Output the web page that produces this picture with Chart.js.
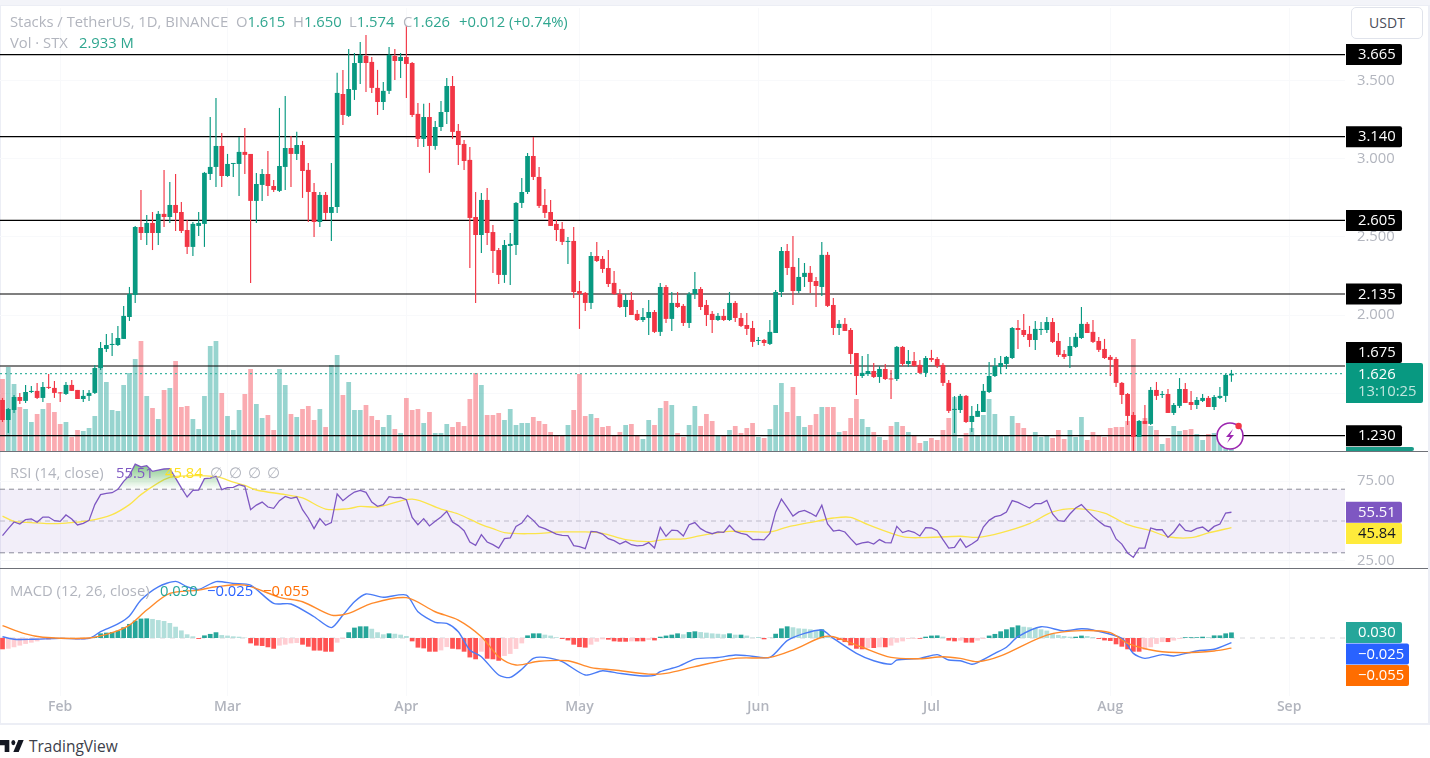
<!DOCTYPE html>
<html>
<head>
<meta charset="utf-8">
<title>Stacks / TetherUS</title>
<script src="https://cdn.jsdelivr.net/npm/chart.js@4/dist/chart.umd.min.js"></script>
<style>
    html, body { margin: 0; padding: 0; background: #fff; overflow: hidden; }
    body { width: 1430px; height: 758px; position: relative; font-family: "Open Sans", sans-serif; }
    canvas { position: absolute; left: 0; }
    .txt { position: absolute; white-space: pre; font-size: 14.8px; line-height: 18px; color: #b2b5be; z-index: 5; }
    .sep { position: absolute; left: 0; width: 1428px; height: 1px; background: #6f7178; z-index: 4; }
    #frame { position: absolute; left: 0; top: 5px; width: 1427px; height: 717px; border: 1px solid #eceef5; border-width: 1px 2px 2px 1px; }
    #topband { position: absolute; left: 0; top: 0; width: 1430px; height: 5px; background: #f3f4f9; }
    #unit { position: absolute; left: 1351px; top: 7px; width: 70px; height: 30px; border: 1px solid #e0e3eb; border-radius: 5px;
            text-align: center; line-height: 30px; font-size: 14px; color: #4a4e5a; background: #fff; z-index: 5; }
</style>
</head>
<body>
<div id="topband"></div>
<div id="frame"></div>
<canvas id="priceChart" width="1430" height="443" style="top:8px"></canvas>
<canvas id="rsiChart" width="1430" height="117" style="top:452px"></canvas>
<canvas id="macdChart" width="1430" height="152" style="top:570px"></canvas>
<div class="sep" style="top:451px"></div>
<div class="sep" style="top:568px"></div>
<div id="unit">USDT</div>

<div class="txt" style="left:10px;top:12px">Stacks / TetherUS, 1D, BINANCE</div>
<div class="txt" style="left:236px;top:12px">O<span style="color:#2fa68f">1.615</span></div>
<div class="txt" style="left:293px;top:12px">H<span style="color:#2fa68f">1.650</span></div>
<div class="txt" style="left:349px;top:12px">L<span style="color:#2fa68f">1.574</span></div>
<div class="txt" style="left:403px;top:12px">C<span style="color:#2fa68f">1.626</span></div>
<div class="txt" style="left:459px;top:12px;color:#2fa68f">+0.012 (+0.74%)</div>
<div class="txt" style="left:10px;top:33px">Vol · STX</div>
<div class="txt" style="left:79px;top:33px;color:#2fa68f">2.933 M</div>

<div class="txt" style="left:10px;top:463px">RSI (14, close)</div>
<div class="txt" style="left:116px;top:463px;color:#7e57c2">55.51</div>
<div class="txt" style="left:165px;top:463px;color:#ffe01f">45.84</div>
<div class="txt" style="left:210px;top:463px">∅</div>
<div class="txt" style="left:229px;top:463px">∅</div>
<div class="txt" style="left:248px;top:463px">∅</div>
<div class="txt" style="left:267px;top:463px">∅</div>

<div class="txt" style="left:10px;top:581px">MACD (12, 26, close)</div>
<div class="txt" style="left:160px;top:581px;color:#26a69a">0.030</div>
<div class="txt" style="left:207px;top:581px;color:#2962ff">−0.025</div>
<div class="txt" style="left:263px;top:581px;color:#ff6d00">−0.055</div>

<svg style="position:absolute;left:0;top:740px" width="24" height="12" viewBox="0 6 36 14" preserveAspectRatio="none">
    <path d="M14 6H0v6h7v8h7V6Z" fill="#131722"/><path d="M28 20h-8l7.5-14h8L28 20Z" fill="#131722"/><circle cx="20" cy="9" r="3" fill="#131722"/>
</svg>
<div class="txt" style="left:29px;top:737px;font-size:15.5px;color:#3d404a">TradingView</div>

<svg style="position:absolute;left:1212px;top:418px;z-index:6" width="36" height="36" viewBox="0 0 36 36">
    <circle cx="18" cy="18" r="13" fill="#fff" stroke="#9c27b0" stroke-width="1.6"/>
    <path d="M21 11l-7 8h4l-3 6 7-8h-4l3-6z" fill="#9c27b0"/>
    <circle cx="26.6" cy="8" r="3.2" fill="#f23645"/>
</svg>

<script>
    // Price candles, one entry per day from 22 Jan to 22 Aug
    var opens = [
        1.458,1.330,1.394,1.477,1.452,1.509,1.516,1.471,1.541,1.535,
        1.503,1.496,1.554,1.522,1.464,1.484,1.503,1.662,1.784,1.809,
        1.809,1.848,1.988,2.129,2.563,2.525,2.589,2.525,2.647,2.627,
        2.704,2.659,2.544,2.436,2.570,2.583,2.902,2.947,3.081,2.889,
        2.966,2.966,3.043,3.030,2.730,2.832,2.902,2.825,2.794,2.947,
        3.068,3.030,3.087,2.928,2.787,2.595,2.768,2.653,2.691,3.413,
        3.273,3.439,3.611,3.656,3.618,3.452,3.362,3.433,3.656,3.624,
        3.650,3.611,3.286,3.126,3.266,3.081,3.202,3.298,3.464,3.177,
        3.094,2.992,2.627,2.512,2.736,2.531,2.416,2.257,2.442,2.448,
        2.717,2.787,3.017,2.883,2.704,2.659,2.583,2.551,2.468,2.474,
        2.154,2.142,2.078,2.378,2.359,2.301,2.206,2.135,2.052,2.097,
        2.008,1.969,1.982,2.020,1.893,2.180,1.976,2.078,2.059,1.950,
        2.135,2.167,2.065,2.008,1.969,1.995,1.969,2.078,1.982,1.937,
        1.918,1.835,1.841,1.816,1.886,2.148,2.410,2.308,2.154,2.244,
        2.270,2.218,2.180,2.385,2.065,1.918,1.944,1.905,1.758,1.611,
        1.624,1.643,1.605,1.656,1.592,1.592,1.797,1.688,1.707,1.682,
        1.631,1.726,1.720,1.682,1.567,1.394,1.394,1.484,1.317,1.350,
        1.381,1.509,1.611,1.669,1.688,1.726,1.918,1.905,1.880,1.841,
        1.905,1.905,1.956,1.835,1.752,1.739,1.797,1.854,1.944,1.893,
        1.835,1.784,1.733,1.720,1.567,1.496,1.362,1.222,1.324,1.305,
        1.522,1.490,1.496,1.375,1.420,1.528,1.445,1.426,1.452,1.471,
        1.413,1.471,1.484,1.615
    ];
    var highs = [
        1.471,1.407,1.490,1.503,1.554,1.547,1.567,1.573,1.624,1.579,
        1.509,1.573,1.586,1.522,1.522,1.522,1.682,1.829,1.880,1.886,
        1.931,2.059,2.180,2.570,2.800,2.640,2.659,2.666,2.928,2.851,
        2.902,2.723,2.608,2.595,2.659,2.915,3.266,3.388,3.164,3.030,
        2.972,3.139,3.196,3.030,2.909,2.934,3.049,2.864,3.324,3.401,
        3.145,3.171,3.113,2.972,2.845,2.787,2.787,2.972,3.548,3.567,
        3.701,3.675,3.746,3.790,3.650,3.567,3.490,3.714,3.701,3.675,
        3.848,3.618,3.356,3.350,3.356,3.241,3.369,3.516,3.528,3.222,
        3.119,3.075,2.787,2.781,2.813,2.576,2.429,2.480,2.525,2.723,
        2.877,3.036,3.139,2.947,2.806,2.736,2.608,2.595,2.500,2.563,
        2.218,2.148,2.404,2.468,2.378,2.416,2.282,2.167,2.135,2.148,
        2.033,2.046,2.097,2.033,2.206,2.193,2.148,2.148,2.071,2.148,
        2.276,2.180,2.097,2.027,2.014,2.040,2.148,2.091,2.014,2.014,
        1.963,1.861,1.848,1.969,2.161,2.436,2.455,2.506,2.365,2.333,
        2.314,2.244,2.468,2.404,2.110,1.969,1.982,1.918,1.758,1.739,
        1.752,1.694,1.675,1.688,1.650,1.803,1.803,1.778,1.765,1.714,
        1.739,1.778,1.733,1.694,1.586,1.483,1.496,1.490,1.420,1.432,
        1.560,1.701,1.726,1.739,1.739,1.924,1.969,2.008,1.931,1.963,
        1.956,1.988,1.982,1.886,1.778,1.861,1.886,2.052,1.956,1.969,
        1.861,1.848,1.746,1.733,1.573,1.503,1.381,1.330,1.426,1.541,
        1.573,1.516,1.528,1.439,1.598,1.567,1.516,1.477,1.496,1.484,
        1.490,1.541,1.624,1.650
    ];
    var lows = [
        1.317,1.247,1.375,1.432,1.439,1.503,1.464,1.445,1.528,1.471,
        1.445,1.490,1.516,1.464,1.445,1.452,1.496,1.650,1.765,1.739,
        1.803,1.848,1.963,2.078,2.480,2.448,2.416,2.448,2.563,2.589,
        2.538,2.525,2.391,2.378,2.506,2.436,2.864,2.819,2.819,2.883,
        2.883,2.762,2.902,2.206,2.589,2.730,2.762,2.787,2.787,2.800,
        2.819,2.992,2.749,2.595,2.500,2.563,2.608,2.474,2.653,3.215,
        3.266,3.375,3.477,3.426,3.420,3.279,3.311,3.413,3.503,3.516,
        3.388,3.266,3.075,3.075,2.909,3.056,3.177,3.222,3.126,2.960,
        2.928,2.301,2.078,2.397,2.448,2.270,2.199,2.206,2.193,2.385,
        2.685,2.774,2.864,2.685,2.621,2.570,2.474,2.448,2.327,2.110,
        1.912,2.027,2.040,2.340,2.270,2.180,2.129,2.046,1.988,2.001,
        1.963,1.956,1.873,1.886,1.867,1.950,1.899,2.046,1.931,1.918,
        2.103,2.033,1.931,1.886,1.963,1.963,1.963,1.956,1.924,1.873,
        1.797,1.809,1.803,1.809,1.886,2.116,2.257,2.065,2.142,2.180,
        2.142,2.052,2.123,2.052,1.873,1.873,1.899,1.688,1.490,1.599,
        1.611,1.599,1.567,1.586,1.464,1.579,1.675,1.669,1.669,1.624,
        1.605,1.701,1.662,1.547,1.375,1.247,1.375,1.311,1.254,1.350,
        1.381,1.503,1.605,1.624,1.656,1.720,1.784,1.861,1.797,1.778,
        1.873,1.886,1.822,1.733,1.720,1.662,1.790,1.848,1.886,1.822,
        1.765,1.720,1.611,1.541,1.432,1.298,1.126,1.222,1.305,1.298,
        1.458,1.471,1.375,1.362,1.407,1.439,1.394,1.401,1.445,1.413,
        1.394,1.464,1.445,1.574
    ];
    var closes = [
        1.330,1.400,1.477,1.452,1.509,1.516,1.471,1.541,1.535,1.503,
        1.500,1.554,1.516,1.464,1.484,1.503,1.662,1.790,1.809,1.816,
        1.854,1.995,2.135,2.563,2.525,2.589,2.525,2.647,2.627,2.704,
        2.653,2.538,2.436,2.583,2.589,2.909,2.947,3.081,2.889,2.966,
        2.972,3.043,3.024,2.730,2.838,2.902,2.825,2.800,2.953,3.068,
        3.030,3.087,2.921,2.787,2.595,2.768,2.653,2.691,3.420,3.279,
        3.445,3.611,3.663,3.611,3.452,3.362,3.433,3.663,3.624,3.650,
        3.605,3.279,3.126,3.266,3.081,3.202,3.298,3.464,3.171,3.087,
        2.985,2.621,2.512,2.736,2.525,2.410,2.257,2.448,2.455,2.717,
        2.787,3.017,2.883,2.698,2.653,2.570,2.544,2.468,2.474,2.148,
        2.135,2.078,2.378,2.346,2.295,2.199,2.135,2.052,2.097,2.001,
        1.969,1.988,2.020,1.893,2.180,1.976,2.078,2.052,1.950,2.135,
        2.167,2.052,2.001,1.969,1.995,1.969,2.078,1.982,1.931,1.912,
        1.829,1.841,1.822,1.893,2.148,2.410,2.301,2.154,2.244,2.270,
        2.212,2.186,2.385,2.059,1.918,1.944,1.899,1.752,1.611,1.631,
        1.643,1.605,1.656,1.592,1.589,1.797,1.688,1.707,1.675,1.631,
        1.726,1.714,1.675,1.567,1.388,1.401,1.484,1.317,1.356,1.388,
        1.516,1.611,1.675,1.694,1.733,1.918,1.905,1.873,1.841,1.912,
        1.912,1.956,1.829,1.746,1.733,1.803,1.861,1.944,1.886,1.829,
        1.778,1.726,1.714,1.567,1.490,1.356,1.222,1.324,1.305,1.522,
        1.484,1.496,1.375,1.426,1.528,1.439,1.426,1.458,1.471,1.413,
        1.477,1.484,1.618,1.626
    ];
    // Volume in millions of STX
    var volumes = [
        72,84,67,44,42,29,37,42,48,39,
        27,29,14,21,20,23,35,85,69,41,
        40,66,78,92,110,55,43,32,61,63,
        90,44,45,32,22,55,105,110,58,35,
        21,41,57,82,47,33,36,21,82,66,
        37,34,42,45,31,42,24,86,96,56,
        69,41,41,46,35,31,24,36,22,18,
        53,41,42,28,39,18,18,27,24,29,
        25,52,78,66,36,36,38,31,42,26,
        28,28,34,30,27,19,16,16,26,41,
        77,35,37,33,24,25,16,19,26,27,
        16,12,31,26,43,50,46,18,14,26,
        45,25,37,30,16,16,21,25,18,23,
        28,14,13,22,46,68,39,64,35,24,
        26,37,44,44,44,19,20,33,52,32,
        24,19,14,11,25,29,25,19,16,8,
        10,13,11,21,33,54,13,18,23,15,
        36,52,37,15,15,35,28,23,15,19,
        14,15,13,21,12,21,14,34,11,19,
        15,14,23,24,24,30,112,30,33,25,
        21,7,13,25,20,21,22,17,11,17,
        18,11,6,2.933
    ];
    var rsiValues = [
        40.8,45.2,49.4,48.1,50.8,51.3,49.2,52.5,52.5,50.2,
        49.8,53.8,51.3,47.5,48.5,50.4,60.3,66.6,67.4,67.8,
        69.9,74.9,78.7,85.8,84,84.8,81.2,82,82.7,82.9,
        77,70.8,65.1,69.3,69.5,76.6,77,78.1,69.7,71,
        71.2,72.9,71.8,57.1,60,61.9,58.8,58,62.8,65.5,
        64.3,65.1,57.1,51.9,45.2,51.5,47.3,49,67,62.8,
        65.7,68.2,69.3,68,61.9,59.2,60.3,65.3,64.7,64.9,
        63.4,52.3,47.7,51.5,46.9,49.8,52.5,56.1,49.4,47.1,
        43.9,36.8,34.7,41.4,36.8,35.1,33,38.9,39.3,46.6,
        48.7,53.5,50.4,46.4,45.2,43.5,41.8,41,40.8,34.5,
        33.9,32.6,43.5,43.1,41.8,38.9,37.6,35.5,37.2,35.1,
        34.3,34.7,36.4,33,46,40.4,44.3,43.9,40.6,47.7,
        49,45.2,43.1,42,43.1,42.9,47.3,43.5,42.2,41.4,
        38.3,38.5,38.1,42.2,55.7,63.8,58.6,53.1,55.7,56.7,
        55,52.9,59.9,48.1,43.7,44.3,43.1,38.9,35.1,36.2,
        36.8,35.5,38.3,36.4,36.2,46.6,42.7,43.9,42.9,40.6,
        45.8,45.6,43.9,38.3,33,33.4,38.7,33.4,35.5,38,
        46.2,50.4,52.7,53.6,55.7,62.8,61.7,59.9,58.2,60.9,
        60.9,63,54.4,50.2,49.8,54.4,58.2,60.3,56.5,52.9,
        49.8,47.1,46.2,38.7,35.5,29.9,27.1,33,33,45.6,
        44.5,44.5,39.7,43.1,48.1,44.1,43.5,45.4,46.2,43.5,
        46.6,48.1,55,55.51
    ];
    // RSI moving average, read at the days where it bends
    var rsiMaDays = [0,2,5,8,11,15,19,22,24,28,30,37,40,42,44,49,52,56,60,62,65,71,76,79,83,85,87,91,97,101,104,108,112,115,118,121,126,133,136,141,144,147,150,156,159,166,169,173,178,182,186,191,195,199,202,206,209,213];
    var rsiMaValues = [53.1,49.8,49,48.3,48.7,50.2,54,60.3,66.6,76,78.1,77.9,74.5,72.4,69.5,66.6,64.5,57.5,57.8,59.2,58.8,63.8,57.5,54.4,47.7,45.2,42.7,42,43.1,43.1,42.2,38.3,37,38.5,38.7,40.8,43.5,43.1,46.2,49.8,51.9,52.3,47.7,40.1,39.5,40.4,39.7,42.5,48.3,55.7,57.8,55,47.7,43.9,40.1,39.5,42.5,45.84];

    var histValues = [
        -.061,-.058,-.05,-.041,-.032,-.025,-.018,-.007,-.007,-.004,
        -.002,-.002,-.004,-.007,-.007,-.003,.007,.025,.029,.032,
        .04,.058,.076,.094,.105,.106,.103,.097,.092,.081,
        .061,.041,.02,.009,-.005,.014,.022,.031,.016,.013,
        .009,.007,.002,-.029,-.041,-.043,-.05,-.058,-.041,-.036,
        -.029,-.027,-.036,-.047,-.068,-.068,-.074,-.074,-.025,-.005,
        .031,.056,.063,.063,.05,.031,.02,.025,.023,.018,
        .011,-.018,-.052,-.056,-.074,-.074,-.067,-.049,-.058,-.061,
        -.074,-.105,-.115,-.074,-.112,-.115,-.123,-.097,-.086,-.059,
        -.029,.014,.025,.025,.018,.013,.004,-.005,-.013,-.036,
        -.049,-.052,-.036,-.02,-.007,-.009,-.018,-.02,-.02,-.018,
        -.018,-.018,-.011,-.013,.007,.013,.018,.025,.02,.032,
        .036,.032,.029,.025,.023,.02,.025,.018,.018,.013,
        .002,.002,-.007,.001,.023,.052,.063,.058,.052,.05,
        .047,.043,.047,.011,.002,-.011,-.022,-.04,-.058,-.061,
        -.054,-.054,-.05,-.05,-.041,-.025,-.018,-.005,-.004,-.004,
        .007,.013,.014,.007,-.014,-.018,-.014,-.025,-.025,-.014,
        -.005,.013,.022,.036,.047,.058,.068,.061,.058,.054,
        .047,.04,.025,.016,.011,.007,.007,.013,.011,.005,
        -.005,-.013,-.016,-.034,-.047,-.061,-.074,-.074,-.065,-.05,
        -.032,-.022,-.022,-.014,-.005,.004,.004,.004,.007,.005,
        .014,.014,.025,.03
    ];
    // MACD and signal lines, read at the days where they bend
    var macdDays = [0,2,5,10,15,17,20,22,24,27,30,32,34,37,40,43,47,50,54,57,59,61,63,66,70,72,75,77,79,81,83,86,88,90,92,94,97,101,104,107,111,113,114,117,120,124,127,129,133,136,139,142,144,148,151,154,155,159,162,164,166,168,169,172,174,176,180,184,187,189,194,196,198,201,203,207,210,213];
    var macdValues = [.007,-.007,-.007,-.002,-.002,.034,.076,.119,.205,.277,.306,.277,.263,.305,.295,.286,.187,.184,.115,.056,.124,.196,.238,.22,.232,.142,.085,.079,.034,-.065,-.101,-.2,-.213,-.169,-.11,-.105,-.128,-.2,-.177,-.191,-.205,-.202,-.182,-.155,-.114,-.105,-.092,-.095,-.105,-.014,.025,.043,-.002,-.083,-.123,-.142,-.119,-.11,-.09,-.119,-.123,-.142,-.133,-.083,-.05,.007,.061,.038,.05,.043,-.002,-.083,-.11,-.09,-.097,-.07,-.061,-.025];
    var signalDays = [0,4,7,15,19,22,25,29,34,37,42,48,52,57,60,64,70,75,79,83,86,89,93,98,102,106,112,115,120,127,133,137,142,144,149,154,159,163,166,169,173,181,187,192,195,200,205,210,213];
    var signalValues = [.067,.022,.004,0,.029,.07,.151,.241,.259,.277,.286,.22,.196,.124,.133,.187,.218,.142,.097,.007,-.101,-.146,-.126,-.123,-.16,-.173,-.195,-.191,-.155,-.11,-.105,-.065,.004,.007,-.05,-.105,-.112,-.101,-.11,-.128,-.097,.016,.04,.029,-.029,-.07,-.079,-.07,-.055];

    var levels = [3.665, 3.14, 2.605, 2.135, 1.675, 1.23];
    var priceTicks = [3.5, 3, 2.5, 2, 1.5];
    var rsiTicks = [75, 25];
    var monthLabels = ["Feb", "Mar", "Apr", "May", "Jun", "Jul", "Aug", "Sep"];
    var monthDays = [10, 39, 70, 100, 131, 161, 192, 223];
    var lastPrice = 1.626;
    var countdown = "13:10:25";

    var days = closes.map(function (c, i) { return i; });
    var xMin = -0.433, xMax = 232.68;
    var upColor = "#089981", downColor = "#f23645";

    function isUp(i) { return closes[i] >= opens[i]; }
    function candleColors() { return days.map(function (i) { return isUp(i) ? upColor : downColor; }); }

    function pairs(xs, ys) { return xs.map(function (x, i) { return { x: x, y: ys[i] }; }); }
    function flat(value) { return [{ x: xMin, y: value }, { x: xMax, y: value }]; }

    // Same x axis on the three panes
    function xAxis(showLabels) {
        return {
            type: "linear", min: xMin, max: xMax, offset: false, display: true,
            border: { display: false },
            grid: { color: "#f8f9fb", drawTicks: false, offset: false },
            ticks: {
                display: showLabels, autoSkip: false, maxRotation: 0, padding: 3, color: "#b2b5be",
                font: { family: "Open Sans", size: 14, weight: "600" },
                callback: function (v, i) { return monthLabels[i]; }
            },
            afterBuildTicks: function (axis) { axis.ticks = monthDays.map(function (d) { return { value: d }; }); },
            afterFit: function (axis) { axis.height = showLabels ? 26 : 0; axis.paddingLeft = 0; axis.paddingRight = 0; }
        };
    }
    function yAxis(min, max, ticks, fmt) {
        return {
            position: "right", min: min, max: max,
            border: { display: false },
            grid: { color: "#f8f9fb", drawTicks: false },
            ticks: {
                padding: 12, color: "#b2b5be", font: { family: "Open Sans", size: 14.8 },
                callback: function (v) { return v.toFixed(fmt); }
            },
            afterBuildTicks: function (axis) { axis.ticks = ticks.map(function (t) { return { value: t }; }); },
            // keep the plot the full height of the canvas, tick labels may overhang
            afterFit: function (axis) { axis.width = 85; axis.paddingTop = 0; axis.paddingBottom = 0; }
        };
    }
    function hiddenAxis(min, max) { return { display: false, position: "left", min: min, max: max, afterFit: function (a) { a.width = 0; } }; }

    function baseOptions(scales) {
        return {
            responsive: false, animation: false, events: [],
            layout: { autoPadding: false, padding: 0 },
            plugins: { legend: { display: false }, tooltip: { enabled: false } },
            scales: scales
        };
    }

    // Axis tags at the right edge, the y comes from the pane's own scale
    function tagPlugin(list) {
        return {
            id: "tags",
            afterDraw: function (chart) {
                var ctx = chart.ctx, scale = chart.scales.y;
                list.forEach(function (t) {
                    var h = t.h || 21;
                    var y = scale.getPixelForValue(t.value) + (t.shift || 0) - h / 2;
                    ctx.fillStyle = t.bg;
                    ctx.beginPath();
                    ctx.roundRect(1346, y, t.w || 56, h, [0, 2, 2, 0]);
                    ctx.fill();
                    ctx.textBaseline = "middle";
                    ctx.textAlign = "left";
                    ctx.font = '14.8px "Open Sans"';
                    ctx.fillStyle = t.fg || "#fff";
                    if (t.label2) {
                        ctx.fillText(t.label, 1358, y + 12);
                        ctx.fillStyle = "rgba(255,255,255,.75)";
                        ctx.fillText(t.label2, 1358, y + 29);
                    } else if (t.label) {
                        ctx.fillText(t.label, 1358, y + h / 2 + 0.5);
                    }
                });
            }
        };
    }

    // Price pane
    var levelSets = levels.map(function (v) {
        return { type: "line", data: flat(v), borderColor: "#000", borderWidth: 1.2, pointRadius: 0, yAxisID: "y", order: 5 };
    });
    var volumeColors = days.map(function (i) { return isUp(i) ? "rgba(38,166,154,.48)" : "rgba(242,54,69,.42)"; });

    new Chart(document.getElementById("priceChart"), {
        type: "bar",
        data: {
            datasets: [
                { data: days.map(function (i) { return { x: i, y: volumes[i] }; }), backgroundColor: volumeColors, yAxisID: "vol",
                  grouped: false, barPercentage: 0.82, categoryPercentage: 1, order: 9 }
            ].concat(levelSets).concat([
                { type: "line", data: flat(lastPrice), borderColor: "#3fb5a2", borderWidth: 1.2, borderDash: [2, 3], pointRadius: 0, yAxisID: "y", order: 4 },
                { data: days.map(function (i) { return { x: i, y: [lows[i], highs[i]] }; }), backgroundColor: candleColors(), yAxisID: "y",
                  grouped: false, barPercentage: 0.2, categoryPercentage: 1, order: 2 },
                { data: days.map(function (i) { return { x: i, y: [opens[i], closes[i]] }; }), backgroundColor: candleColors(), yAxisID: "y",
                  grouped: false, barPercentage: 0.82, categoryPercentage: 1, minBarLength: 1, order: 1 }
            ])
        },
        options: baseOptions({
            x: xAxis(false),
            y: yAxis(1.1319, 3.9625, priceTicks, 3),
            vol: hiddenAxis(0, 443)
        }),
        plugins: [tagPlugin([
            { value: levels[0], label: "3.665", bg: "#000" },
            { value: levels[1], label: "3.140", bg: "#000" },
            { value: levels[2], label: "2.605", bg: "#000" },
            { value: levels[3], label: "2.135", bg: "#000" },
            { value: levels[4], label: "1.675", bg: "#000", shift: -13.5 },
            { value: lastPrice, label: "1.626", label2: countdown, bg: upColor, w: 77, h: 40, shift: 9.3 },
            { value: levels[5], label: "1.230", bg: "#000" },
            { value: 1.1319, bg: "#1a9b88", w: 68, h: 4, shift: -2 }
        ])]
    });

    // RSI pane
    var rsiCtx = document.getElementById("rsiChart").getContext("2d");
    var rsiGlow = rsiCtx.createLinearGradient(0, 12, 0, 37);
    rsiGlow.addColorStop(0, "rgba(76,175,80,.7)");
    rsiGlow.addColorStop(1, "rgba(76,175,80,0)");

    function dashed(value, color) {
        return { data: flat(value), borderColor: color, borderWidth: 1, borderDash: [5, 4], pointRadius: 0, order: 6 };
    }
    var rsiBand = dashed(70, "#8b8d96");
    rsiBand.fill = { value: 30 };
    rsiBand.backgroundColor = "rgba(126,87,194,.1)";

    new Chart(rsiCtx, {
        type: "line",
        data: {
            datasets: [
                rsiBand,
                dashed(50, "#c6c7cc"),
                dashed(30, "#8b8d96"),
                { data: pairs(rsiMaDays, rsiMaValues), borderColor: "#fbe44b", borderWidth: 1.3, pointRadius: 0, tension: 0.3, order: 3 },
                { data: pairs(days, rsiValues), borderColor: "#7e57c2", borderWidth: 1.3, pointRadius: 0, order: 2,
                  fill: { target: { value: 70 }, above: rsiGlow, below: "transparent" } }
            ]
        },
        options: baseOptions({ x: xAxis(false), y: yAxis(19.81, 93.4, rsiTicks, 2) }),
        plugins: [tagPlugin([
            { value: 55.51, label: "55.51", bg: "#7e57c2" },
            { value: 45.84, label: "45.84", bg: "#ffeb3b", fg: "#131722", shift: 6 }
        ])]
    });

    // MACD pane, histogram colours follow the usual rising/falling rule
    var histColors = histValues.map(function (v, i) {
        var prev = i > 0 ? histValues[i - 1] : v;
        if (v >= 0) return v >= prev ? "#26a69a" : "#b2dfdb";
        return v <= prev ? "#ff5252" : "#ffcdd2";
    });

    new Chart(document.getElementById("macdChart"), {
        type: "bar",
        data: {
            datasets: [
                { data: days.map(function (i) { return { x: i, y: histValues[i] }; }), backgroundColor: histColors,
                  grouped: false, barPercentage: 0.82, categoryPercentage: 1, order: 5 },
                { type: "line", data: flat(0), borderColor: "#d5d6da", borderWidth: 1, borderDash: [5, 5], pointRadius: 0, order: 6 },
                { type: "line", data: pairs(macdDays, macdValues), borderColor: "#4a7cf6", borderWidth: 1.4, pointRadius: 0, tension: 0.25, order: 2 },
                { type: "line", data: pairs(signalDays, signalValues), borderColor: "#ff8a2b", borderWidth: 1.4, pointRadius: 0, tension: 0.3, order: 1 }
            ]
        },
        options: baseOptions({ x: xAxis(true), y: yAxis(-0.3135, 0.3676, [], 3) }),
        plugins: [tagPlugin([
            { value: 0.030, label: "0.030", bg: "#26a69a" },
            { value: -0.025, label: "−0.025", bg: "#2962ff", w: 63, shift: 11.4 },
            { value: -0.055, label: "−0.055", bg: "#ff6d00", w: 63, shift: 27.3 }
        ])]
    });
</script>
</body>
</html>
